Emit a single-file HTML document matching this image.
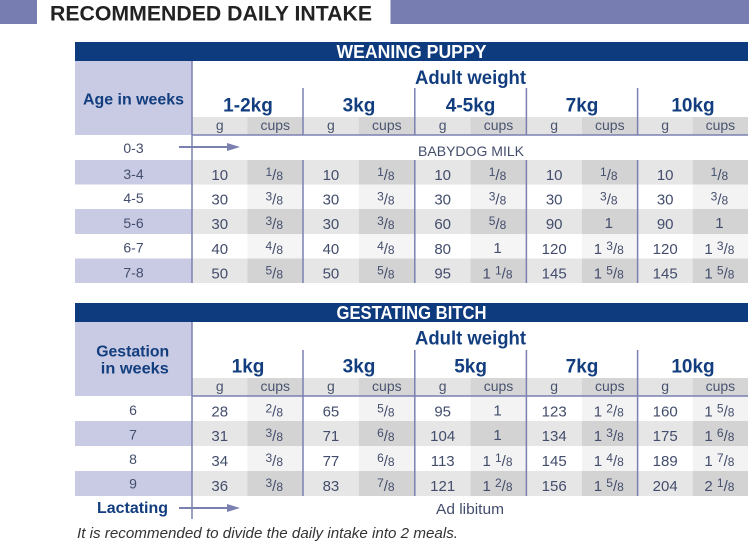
<!DOCTYPE html>
<html><head><meta charset="utf-8"><style>
html,body{margin:0;padding:0;background:#fff;}
svg{display:block;}
.n{font-size:15px;fill:#434d6c;text-anchor:middle;}
.s{font-size:12px;}
.l{font-size:14px;fill:#434d6c;text-anchor:middle;}
.h{font-weight:bold;fill:#123d7e;}
.sub{font-size:14px;fill:#4a5470;text-anchor:middle;}
</style></head><body>
<svg width="750" height="544" viewBox="0 0 750 544" font-family="'Liberation Sans', Arial, sans-serif">
<rect width="750" height="544" fill="#fff"/>
<!-- Title -->
<rect x="0" y="0" width="37" height="24" fill="#777db0"/>
<rect x="390.5" y="0" width="358.5" height="24" fill="#777db0"/>
<text x="50" y="20.5" font-size="21" font-weight="bold" fill="#222" textLength="322" lengthAdjust="spacingAndGlyphs">RECOMMENDED DAILY INTAKE</text>

<!-- ===== TABLE 1 ===== -->
<rect x="75" y="42" width="673" height="19" fill="#0e3a7e"/>
<text x="411.5" y="58" text-anchor="middle" font-size="18" font-weight="bold" fill="#fff" textLength="150" lengthAdjust="spacingAndGlyphs">WEANING PUPPY</text>
<rect x="75" y="61" width="117" height="74" fill="#c8cbe3"/>
<text x="133.5" y="104.3" text-anchor="middle" font-size="16" class="h" textLength="101" lengthAdjust="spacingAndGlyphs">Age in weeks</text>
<text x="470.5" y="84" text-anchor="middle" font-size="19" class="h" textLength="111" lengthAdjust="spacingAndGlyphs">Adult weight</text>
<g font-size="19" class="h" text-anchor="middle">
<text x="248" y="111.7" class="h">1-2kg</text>
<text x="359" y="111.7" class="h">3kg</text>
<text x="470.6" y="111.7" class="h">4-5kg</text>
<text x="582" y="111.7" class="h">7kg</text>
<text x="693" y="111.7" class="h">10kg</text>
</g>
<!-- subheader -->
<rect x="192" y="117" width="556" height="18" fill="#e4e4e4"/>
<rect x="247.5" y="117" width="55.5" height="18" fill="#d5d5d5"/>
<rect x="358.9" y="117" width="55.9" height="18" fill="#d5d5d5"/>
<rect x="470.6" y="117" width="55.8" height="18" fill="#d5d5d5"/>
<rect x="582" y="117" width="55.6" height="18" fill="#d5d5d5"/>
<rect x="692.8" y="117" width="55.2" height="18" fill="#d5d5d5"/>
<g class="sub">
<text class="sub" x="219.75" y="130">g</text><text class="sub" x="275.25" y="130">cups</text>
<text class="sub" x="330.95" y="130">g</text><text class="sub" x="386.85" y="130">cups</text>
<text class="sub" x="442.7" y="130">g</text><text class="sub" x="498.5" y="130">cups</text>
<text class="sub" x="554.2" y="130">g</text><text class="sub" x="609.8" y="130">cups</text>
<text class="sub" x="665.2" y="130">g</text><text class="sub" x="720.4" y="130">cups</text>
</g>
<!-- row backgrounds -->
<!-- shaded rows -->
<rect x="75" y="160" width="117" height="24.5" fill="#c8cbe3"/>
<rect x="192" y="160" width="556" height="24.5" fill="#e6e6e6"/>
<rect x="75" y="209" width="117" height="25" fill="#c8cbe3"/>
<rect x="192" y="209" width="556" height="25" fill="#e6e6e6"/>
<rect x="75" y="258.5" width="117" height="24.5" fill="#c8cbe3"/>
<rect x="192" y="258.5" width="556" height="24.5" fill="#e6e6e6"/>
<!-- cups columns -->
<g>
<rect x="247.5" y="160" width="55.5" height="24.5" fill="#d3d3d3"/><rect x="358.9" y="160" width="55.9" height="24.5" fill="#d3d3d3"/><rect x="470.6" y="160" width="55.8" height="24.5" fill="#d3d3d3"/><rect x="582" y="160" width="55.6" height="24.5" fill="#d3d3d3"/><rect x="692.8" y="160" width="55.2" height="24.5" fill="#d3d3d3"/>
<rect x="247.5" y="184.5" width="55.5" height="24.5" fill="#f3f3f3"/><rect x="358.9" y="184.5" width="55.9" height="24.5" fill="#f3f3f3"/><rect x="470.6" y="184.5" width="55.8" height="24.5" fill="#f3f3f3"/><rect x="582" y="184.5" width="55.6" height="24.5" fill="#f3f3f3"/><rect x="692.8" y="184.5" width="55.2" height="24.5" fill="#f3f3f3"/>
<rect x="247.5" y="209" width="55.5" height="25" fill="#d3d3d3"/><rect x="358.9" y="209" width="55.9" height="25" fill="#d3d3d3"/><rect x="470.6" y="209" width="55.8" height="25" fill="#d3d3d3"/><rect x="582" y="209" width="55.6" height="25" fill="#d3d3d3"/><rect x="692.8" y="209" width="55.2" height="25" fill="#d3d3d3"/>
<rect x="247.5" y="234" width="55.5" height="24.5" fill="#f5f5f5"/><rect x="358.9" y="234" width="55.9" height="24.5" fill="#f5f5f5"/><rect x="470.6" y="234" width="55.8" height="24.5" fill="#f5f5f5"/><rect x="582" y="234" width="55.6" height="24.5" fill="#f5f5f5"/><rect x="692.8" y="234" width="55.2" height="24.5" fill="#f5f5f5"/>
<rect x="247.5" y="258.5" width="55.5" height="24.5" fill="#d3d3d3"/><rect x="358.9" y="258.5" width="55.9" height="24.5" fill="#d3d3d3"/><rect x="470.6" y="258.5" width="55.8" height="24.5" fill="#d3d3d3"/><rect x="582" y="258.5" width="55.6" height="24.5" fill="#d3d3d3"/><rect x="692.8" y="258.5" width="55.2" height="24.5" fill="#d3d3d3"/>
</g>
<!-- lines -->
<g stroke="#7a80b0" stroke-width="1.5" fill="none">
<line x1="192" y1="135" x2="748" y2="135"/>
<line x1="192" y1="61" x2="192" y2="283"/>
<line x1="303" y1="88" x2="303" y2="135"/><line x1="303" y1="160" x2="303" y2="283"/>
<line x1="414.8" y1="88" x2="414.8" y2="135"/><line x1="414.8" y1="160" x2="414.8" y2="283"/>
<line x1="526.4" y1="88" x2="526.4" y2="135"/><line x1="526.4" y1="160" x2="526.4" y2="283"/>
<line x1="637.6" y1="88" x2="637.6" y2="135"/><line x1="637.6" y1="160" x2="637.6" y2="283"/>
<line x1="179" y1="147" x2="230" y2="147" stroke-width="2"/>
</g>
<polygon points="227,143 240,147 227,151" fill="#7a80b0"/>
<!-- labels -->
<text class="l" x="133.5" y="153">0-3</text>
<text class="l" x="133.5" y="179">3-4</text>
<text class="l" x="133.5" y="203">4-5</text>
<text class="l" x="133.5" y="228">5-6</text>
<text class="l" x="133.5" y="252.5">6-7</text>
<text class="l" x="133.5" y="277.5">7-8</text>
<text x="418" y="156" font-size="14" fill="#434d6c" textLength="106" lengthAdjust="spacingAndGlyphs">BABYDOG MILK</text>
<!-- row 3-4 -->
<text class="n" x="219.75" y="180">10</text><text class="n" x="274.25" y="180"><tspan class="s" dy="-4">1</tspan><tspan dy="4">/</tspan><tspan class="s">8</tspan></text>
<text class="n" x="330.95" y="180">10</text><text class="n" x="385.85" y="180"><tspan class="s" dy="-4">1</tspan><tspan dy="4">/</tspan><tspan class="s">8</tspan></text>
<text class="n" x="442.7" y="180">10</text><text class="n" x="497.5" y="180"><tspan class="s" dy="-4">1</tspan><tspan dy="4">/</tspan><tspan class="s">8</tspan></text>
<text class="n" x="554.2" y="180">10</text><text class="n" x="608.8" y="180"><tspan class="s" dy="-4">1</tspan><tspan dy="4">/</tspan><tspan class="s">8</tspan></text>
<text class="n" x="665.2" y="180">10</text><text class="n" x="719.4" y="180"><tspan class="s" dy="-4">1</tspan><tspan dy="4">/</tspan><tspan class="s">8</tspan></text>
<!-- row 4-5 -->
<text class="n" x="219.75" y="204.5">30</text><text class="n" x="274.25" y="204.5"><tspan class="s" dy="-4">3</tspan><tspan dy="4">/</tspan><tspan class="s">8</tspan></text>
<text class="n" x="330.95" y="204.5">30</text><text class="n" x="385.85" y="204.5"><tspan class="s" dy="-4">3</tspan><tspan dy="4">/</tspan><tspan class="s">8</tspan></text>
<text class="n" x="442.7" y="204.5">30</text><text class="n" x="497.5" y="204.5"><tspan class="s" dy="-4">3</tspan><tspan dy="4">/</tspan><tspan class="s">8</tspan></text>
<text class="n" x="554.2" y="204.5">30</text><text class="n" x="608.8" y="204.5"><tspan class="s" dy="-4">3</tspan><tspan dy="4">/</tspan><tspan class="s">8</tspan></text>
<text class="n" x="665.2" y="204.5">30</text><text class="n" x="719.4" y="204.5"><tspan class="s" dy="-4">3</tspan><tspan dy="4">/</tspan><tspan class="s">8</tspan></text>
<!-- row 5-6 -->
<text class="n" x="219.75" y="229">30</text><text class="n" x="274.25" y="229"><tspan class="s" dy="-4">3</tspan><tspan dy="4">/</tspan><tspan class="s">8</tspan></text>
<text class="n" x="330.95" y="229">30</text><text class="n" x="385.85" y="229"><tspan class="s" dy="-4">3</tspan><tspan dy="4">/</tspan><tspan class="s">8</tspan></text>
<text class="n" x="442.7" y="229">60</text><text class="n" x="497.5" y="229"><tspan class="s" dy="-4">5</tspan><tspan dy="4">/</tspan><tspan class="s">8</tspan></text>
<text class="n" x="554.2" y="229">90</text><text class="n" x="608.8" y="228">1</text>
<text class="n" x="665.2" y="229">90</text><text class="n" x="719.4" y="228">1</text>
<!-- row 6-7 -->
<text class="n" x="219.75" y="254">40</text><text class="n" x="274.25" y="254"><tspan class="s" dy="-4">4</tspan><tspan dy="4">/</tspan><tspan class="s">8</tspan></text>
<text class="n" x="330.95" y="254">40</text><text class="n" x="385.85" y="254"><tspan class="s" dy="-4">4</tspan><tspan dy="4">/</tspan><tspan class="s">8</tspan></text>
<text class="n" x="442.7" y="254">80</text><text class="n" x="497.5" y="253">1</text>
<text class="n" x="554.2" y="254">120</text><text class="n" x="608.8" y="254">1 <tspan class="s" dy="-4">3</tspan><tspan dy="4">/</tspan><tspan class="s">8</tspan></text>
<text class="n" x="665.2" y="254">120</text><text class="n" x="719.4" y="254">1 <tspan class="s" dy="-4">3</tspan><tspan dy="4">/</tspan><tspan class="s">8</tspan></text>
<!-- row 7-8 -->
<text class="n" x="219.75" y="278.5">50</text><text class="n" x="274.25" y="278.5"><tspan class="s" dy="-4">5</tspan><tspan dy="4">/</tspan><tspan class="s">8</tspan></text>
<text class="n" x="330.95" y="278.5">50</text><text class="n" x="385.85" y="278.5"><tspan class="s" dy="-4">5</tspan><tspan dy="4">/</tspan><tspan class="s">8</tspan></text>
<text class="n" x="442.7" y="278.5">95</text><text class="n" x="497.5" y="278.5">1 <tspan class="s" dy="-4">1</tspan><tspan dy="4">/</tspan><tspan class="s">8</tspan></text>
<text class="n" x="554.2" y="278.5">145</text><text class="n" x="608.8" y="278.5">1 <tspan class="s" dy="-4">5</tspan><tspan dy="4">/</tspan><tspan class="s">8</tspan></text>
<text class="n" x="665.2" y="278.5">145</text><text class="n" x="719.4" y="278.5">1 <tspan class="s" dy="-4">5</tspan><tspan dy="4">/</tspan><tspan class="s">8</tspan></text>

<!-- ===== TABLE 2 ===== -->
<rect x="75" y="303" width="673" height="19" fill="#0e3a7e"/>
<text x="411.5" y="319" text-anchor="middle" font-size="18" font-weight="bold" fill="#fff" textLength="150" lengthAdjust="spacingAndGlyphs">GESTATING BITCH</text>
<rect x="75" y="322" width="117" height="74" fill="#c8cbe3"/>
<text x="132.7" y="356.7" text-anchor="middle" font-size="16" class="h" textLength="73" lengthAdjust="spacingAndGlyphs">Gestation</text>
<text x="134.8" y="373.3" text-anchor="middle" font-size="16" class="h" textLength="68" lengthAdjust="spacingAndGlyphs">in weeks</text>
<text x="470.5" y="344.3" text-anchor="middle" font-size="19" class="h" textLength="111" lengthAdjust="spacingAndGlyphs">Adult weight</text>
<g font-size="19" text-anchor="middle">
<text x="248" y="372.7" class="h">1kg</text>
<text x="359" y="372.7" class="h">3kg</text>
<text x="470.6" y="372.7" class="h">5kg</text>
<text x="582" y="372.7" class="h">7kg</text>
<text x="693" y="372.7" class="h">10kg</text>
</g>
<rect x="192" y="378" width="556" height="18" fill="#e4e4e4"/>
<rect x="247.5" y="378" width="55.5" height="18" fill="#d5d5d5"/>
<rect x="358.9" y="378" width="55.9" height="18" fill="#d5d5d5"/>
<rect x="470.6" y="378" width="55.8" height="18" fill="#d5d5d5"/>
<rect x="582" y="378" width="55.6" height="18" fill="#d5d5d5"/>
<rect x="692.8" y="378" width="55.2" height="18" fill="#d5d5d5"/>
<text class="sub" x="219.75" y="391">g</text><text class="sub" x="275.25" y="391">cups</text>
<text class="sub" x="330.95" y="391">g</text><text class="sub" x="386.85" y="391">cups</text>
<text class="sub" x="442.7" y="391">g</text><text class="sub" x="498.5" y="391">cups</text>
<text class="sub" x="554.2" y="391">g</text><text class="sub" x="609.8" y="391">cups</text>
<text class="sub" x="665.2" y="391">g</text><text class="sub" x="720.4" y="391">cups</text>
<!-- rows bg -->
<rect x="75" y="421" width="117" height="25" fill="#c8cbe3"/>
<rect x="192" y="421" width="556" height="25" fill="#e6e6e6"/>
<rect x="75" y="471" width="117" height="25" fill="#c8cbe3"/>
<rect x="192" y="471" width="556" height="25" fill="#e6e6e6"/>
<g>
<rect x="247.5" y="396" width="55.5" height="25" fill="#f3f3f3"/><rect x="358.9" y="396" width="55.9" height="25" fill="#f3f3f3"/><rect x="470.6" y="396" width="55.8" height="25" fill="#f3f3f3"/><rect x="582" y="396" width="55.6" height="25" fill="#f3f3f3"/><rect x="692.8" y="396" width="55.2" height="25" fill="#f3f3f3"/>
<rect x="247.5" y="421" width="55.5" height="25" fill="#d3d3d3"/><rect x="358.9" y="421" width="55.9" height="25" fill="#d3d3d3"/><rect x="470.6" y="421" width="55.8" height="25" fill="#d3d3d3"/><rect x="582" y="421" width="55.6" height="25" fill="#d3d3d3"/><rect x="692.8" y="421" width="55.2" height="25" fill="#d3d3d3"/>
<rect x="247.5" y="446" width="55.5" height="25" fill="#f3f3f3"/><rect x="358.9" y="446" width="55.9" height="25" fill="#f3f3f3"/><rect x="470.6" y="446" width="55.8" height="25" fill="#f3f3f3"/><rect x="582" y="446" width="55.6" height="25" fill="#f3f3f3"/><rect x="692.8" y="446" width="55.2" height="25" fill="#f3f3f3"/>
<rect x="247.5" y="471" width="55.5" height="25" fill="#d3d3d3"/><rect x="358.9" y="471" width="55.9" height="25" fill="#d3d3d3"/><rect x="470.6" y="471" width="55.8" height="25" fill="#d3d3d3"/><rect x="582" y="471" width="55.6" height="25" fill="#d3d3d3"/><rect x="692.8" y="471" width="55.2" height="25" fill="#d3d3d3"/>
</g>
<g stroke="#7a80b0" stroke-width="1.5" fill="none">
<line x1="192" y1="396" x2="748" y2="396"/>
<line x1="192" y1="322" x2="192" y2="519"/>
<line x1="303" y1="350" x2="303" y2="496"/>
<line x1="414.8" y1="350" x2="414.8" y2="496"/>
<line x1="526.4" y1="350" x2="526.4" y2="496"/>
<line x1="637.6" y1="350" x2="637.6" y2="496"/>
<line x1="179" y1="508" x2="230" y2="508" stroke-width="2"/>
</g>
<polygon points="227,504 240,508 227,512" fill="#7a80b0"/>
<text class="l" x="133" y="415">6</text>
<text class="l" x="133" y="439.5">7</text>
<text class="l" x="133" y="464">8</text>
<text class="l" x="133" y="488.5">9</text>
<!-- row 6 -->
<text class="n" x="219.75" y="416.5">28</text><text class="n" x="274.25" y="416.5"><tspan class="s" dy="-4">2</tspan><tspan dy="4">/</tspan><tspan class="s">8</tspan></text>
<text class="n" x="330.95" y="416.5">65</text><text class="n" x="385.85" y="416.5"><tspan class="s" dy="-4">5</tspan><tspan dy="4">/</tspan><tspan class="s">8</tspan></text>
<text class="n" x="442.7" y="416.5">95</text><text class="n" x="497.5" y="415.5">1</text>
<text class="n" x="554.2" y="416.5">123</text><text class="n" x="608.8" y="416.5">1 <tspan class="s" dy="-4">2</tspan><tspan dy="4">/</tspan><tspan class="s">8</tspan></text>
<text class="n" x="665.2" y="416.5">160</text><text class="n" x="719.4" y="416.5">1 <tspan class="s" dy="-4">5</tspan><tspan dy="4">/</tspan><tspan class="s">8</tspan></text>
<!-- row 7 -->
<text class="n" x="219.75" y="441">31</text><text class="n" x="274.25" y="441"><tspan class="s" dy="-4">3</tspan><tspan dy="4">/</tspan><tspan class="s">8</tspan></text>
<text class="n" x="330.95" y="441">71</text><text class="n" x="385.85" y="441"><tspan class="s" dy="-4">6</tspan><tspan dy="4">/</tspan><tspan class="s">8</tspan></text>
<text class="n" x="442.7" y="441">104</text><text class="n" x="497.5" y="440">1</text>
<text class="n" x="554.2" y="441">134</text><text class="n" x="608.8" y="441">1 <tspan class="s" dy="-4">3</tspan><tspan dy="4">/</tspan><tspan class="s">8</tspan></text>
<text class="n" x="665.2" y="441">175</text><text class="n" x="719.4" y="441">1 <tspan class="s" dy="-4">6</tspan><tspan dy="4">/</tspan><tspan class="s">8</tspan></text>
<!-- row 8 -->
<text class="n" x="219.75" y="466">34</text><text class="n" x="274.25" y="466"><tspan class="s" dy="-4">3</tspan><tspan dy="4">/</tspan><tspan class="s">8</tspan></text>
<text class="n" x="330.95" y="466">77</text><text class="n" x="385.85" y="466"><tspan class="s" dy="-4">6</tspan><tspan dy="4">/</tspan><tspan class="s">8</tspan></text>
<text class="n" x="442.7" y="466">113</text><text class="n" x="497.5" y="466">1 <tspan class="s" dy="-4">1</tspan><tspan dy="4">/</tspan><tspan class="s">8</tspan></text>
<text class="n" x="554.2" y="466">145</text><text class="n" x="608.8" y="466">1 <tspan class="s" dy="-4">4</tspan><tspan dy="4">/</tspan><tspan class="s">8</tspan></text>
<text class="n" x="665.2" y="466">189</text><text class="n" x="719.4" y="466">1 <tspan class="s" dy="-4">7</tspan><tspan dy="4">/</tspan><tspan class="s">8</tspan></text>
<!-- row 9 -->
<text class="n" x="219.75" y="491">36</text><text class="n" x="274.25" y="491"><tspan class="s" dy="-4">3</tspan><tspan dy="4">/</tspan><tspan class="s">8</tspan></text>
<text class="n" x="330.95" y="491">83</text><text class="n" x="385.85" y="491"><tspan class="s" dy="-4">7</tspan><tspan dy="4">/</tspan><tspan class="s">8</tspan></text>
<text class="n" x="442.7" y="491">121</text><text class="n" x="497.5" y="491">1 <tspan class="s" dy="-4">2</tspan><tspan dy="4">/</tspan><tspan class="s">8</tspan></text>
<text class="n" x="554.2" y="491">156</text><text class="n" x="608.8" y="491">1 <tspan class="s" dy="-4">5</tspan><tspan dy="4">/</tspan><tspan class="s">8</tspan></text>
<text class="n" x="665.2" y="491">204</text><text class="n" x="719.4" y="491">2 <tspan class="s" dy="-4">1</tspan><tspan dy="4">/</tspan><tspan class="s">8</tspan></text>
<!-- lactating -->
<text x="97" y="513" font-size="16" class="h" textLength="71" lengthAdjust="spacingAndGlyphs">Lactating</text>
<text x="436" y="514" font-size="15" fill="#434d6c" textLength="68" lengthAdjust="spacingAndGlyphs">Ad libitum</text>
<!-- footnote -->
<text x="77" y="538" font-size="14.5" font-style="italic" fill="#333" textLength="381" lengthAdjust="spacingAndGlyphs">It is recommended to divide the daily intake into 2 meals.</text>
</svg>
</body></html>
